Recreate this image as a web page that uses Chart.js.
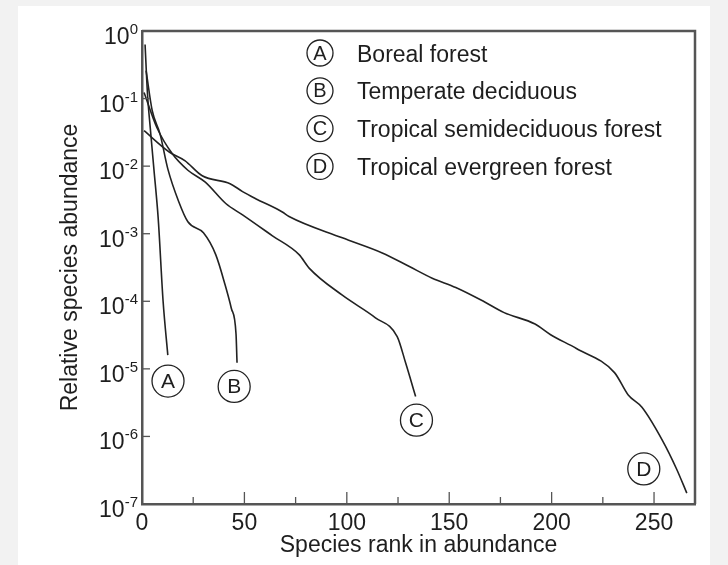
<!DOCTYPE html>
<html>
<head>
<meta charset="utf-8">
<script src="https://cdn.jsdelivr.net/npm/chart.js@4"></script>
<style>
  html, body { margin: 0; padding: 0; background: #fff; }
  canvas { display: block; }
</style>
</head>
<body>
<canvas id="grafico" width="728" height="565"></canvas>
<script>
// curvas (rank, abundancia relativa)
const letras = ['A', 'B', 'C', 'D'];
const nomes = ['Boreal forest', 'Temperate deciduous', 'Tropical semideciduous forest', 'Tropical evergreen forest'];

const borealRank = [1.5, 2.7, 4.1, 5.8, 7.9, 10.3, 12.6];
const borealAbund = [0.63, 0.115, 0.035, 0.0091, 0.0017, 0.0001, 0.000016];

const temperadaRank = [2, 5, 8.8, 12.6, 17.9, 22.4, 30, 36, 40.6, 43.6, 45.9, 46.4];
const temperadaAbund = [0.26, 0.066, 0.03, 0.0091, 0.003, 0.0015, 0.00103, 0.00049, 0.000174, 0.000079, 0.000033, 0.0000123];

const semiRank = [1, 7.3, 14.9, 22.4, 30.9, 40.9, 49.1, 63.7, 76.7, 81.6, 97.8, 114, 124.6, 128.7, 133.6];
const semiAbund = [0.123, 0.037, 0.0151, 0.0087, 0.0058, 0.0028, 0.0019, 0.00093, 0.00049, 0.00031, 0.000123, 0.000057, 0.00003, 0.0000123, 0.0000039];

const sempreRank = [1, 13.3, 20.9, 29.4, 43, 49.1, 55.5, 68.5, 71.8, 97.8, 117.3, 130.3, 141.7, 153.2, 166.7, 176.8, 191.9, 199.5, 212.1, 230.7, 237.4, 244.1, 254.2, 261, 266];
const sempreAbund = [0.0335, 0.0162, 0.0121, 0.0072, 0.0055, 0.0042, 0.0033, 0.0021, 0.0018, 0.00087, 0.00052, 0.00033, 0.00022, 0.00016, 0.0001, 0.000068, 0.000046, 0.000032, 0.00002, 0.0000088, 0.0000041, 0.0000027, 0.00000086, 0.00000033, 0.000000145];

// onde ficam os circulos com letra junto das curvas
const rotuloRank = [12.7, 45, 134, 245];
const rotuloAbund = [0.0000066, 0.0000055, 0.00000174, 0.00000033];

const xTicks = [0, 50, 100, 150, 200, 250];
const xTickMarks = [25, 50, 75, 100, 125, 150, 175, 200, 225, 250];
const yExpoentes = [0, -1, -2, -3, -4, -5, -6, -7];

const fonte = '"Liberation Sans", Arial, Helvetica, sans-serif';
const corTexto = '#1e1e1e';
const corEixo = '#555';

const series = [
  [borealRank, borealAbund],
  [temperadaRank, temperadaAbund],
  [semiRank, semiAbund],
  [sempreRank, sempreAbund]
];

const datasets = series.map((s, i) => ({
  label: nomes[i],
  data: s[0].map((r, j) => ({ x: r, y: s[1][j] })),
  borderColor: '#222',
  borderWidth: 1.6,
  pointRadius: 0,
  fill: false,
  cubicInterpolationMode: 'monotone'
}));

function circulo(ctx, cx, cy, r, letra, tam) {
  ctx.beginPath();
  ctx.arc(cx, cy, r, 0, Math.PI * 2);
  ctx.lineWidth = 1.3;
  ctx.strokeStyle = '#222';
  ctx.stroke();
  ctx.font = tam + 'px ' + fonte;
  ctx.textAlign = 'center';
  ctx.textBaseline = 'middle';
  ctx.fillStyle = corTexto;
  ctx.fillText(letra, cx, cy + 1);
}

const moldura = {
  id: 'moldura',
  beforeDraw(chart) {
    const ctx = chart.ctx;
    ctx.save();
    ctx.fillStyle = '#f2f2f2';
    ctx.fillRect(0, 0, chart.width, chart.height);
    ctx.fillStyle = '#fff';
    ctx.fillRect(18, 6, 692, chart.height - 6);
    ctx.restore();
  },
  afterDraw(chart) {
    const { ctx, chartArea: a, scales: { x, y } } = chart;
    ctx.save();
    ctx.strokeStyle = corEixo;
    ctx.lineWidth = 2.5;
    ctx.beginPath();
    ctx.moveTo(a.left, a.top);
    ctx.lineTo(a.right, a.top);
    ctx.lineTo(a.right, a.bottom);
    ctx.stroke();

    ctx.lineWidth = 1.3;
    xTickMarks.forEach(v => {
      const px = x.getPixelForValue(v);
      const len = v % 50 === 0 ? 12 : 7;
      ctx.beginPath();
      ctx.moveTo(px, a.bottom);
      ctx.lineTo(px, a.bottom - len);
      ctx.stroke();
    });

    ctx.fillStyle = corTexto;
    yExpoentes.forEach(e => {
      const py = y.getPixelForValue(Math.pow(10, e));
      if (e !== 0 && e !== -7) {
        ctx.beginPath();
        ctx.moveTo(a.left, py);
        ctx.lineTo(a.left + 8, py);
        ctx.stroke();
      }
      const sup = e === 0 ? '0' : '-' + (-e);
      ctx.textAlign = 'right';
      ctx.textBaseline = 'alphabetic';
      ctx.font = '15px ' + fonte;
      const sw = ctx.measureText(sup).width;
      ctx.fillText(sup, a.left - 4, py + 3);
      ctx.font = '23px ' + fonte;
      ctx.fillText('10', a.left - 4 - sw, py + 13);
    });

    // legenda
    nomes.forEach((n, i) => {
      const cy = 53 + i * 37.8;
      circulo(ctx, 320, cy, 13, letras[i], 20);
      ctx.font = '23px ' + fonte;
      ctx.textAlign = 'left';
      ctx.textBaseline = 'alphabetic';
      ctx.fillText(n, 357, cy + 8.5);
    });

    // letras nas curvas
    letras.forEach((l, i) => {
      const px = x.getPixelForValue(rotuloRank[i]);
      const py = y.getPixelForValue(rotuloAbund[i]);
      circulo(ctx, px, py, 16, l, 21);
    });
    ctx.restore();
  }
};

Chart.defaults.font.family = fonte;
Chart.defaults.color = corTexto;

new Chart(document.getElementById('grafico'), {
  type: 'line',
  data: { datasets },
  options: {
    responsive: false,
    animation: false,
    devicePixelRatio: 1,
    layout: { padding: { top: 31, right: 33, bottom: 0, left: 0 } },
    plugins: { legend: { display: false }, tooltip: { enabled: false } },
    scales: {
      x: {
        type: 'linear',
        min: 0,
        max: 270,
        afterFit: s => { s.height = 61; },
        afterBuildTicks: s => { s.ticks = xTicks.map(v => ({ value: v })); },
        grid: { display: false, drawTicks: false },
        border: { display: true, color: corEixo, width: 2.5 },
        ticks: { font: { size: 23 }, padding: 6, maxRotation: 0, autoSkip: false },
        title: { display: true, text: 'Species rank in abundance', font: { size: 23 }, padding: { top: 0, bottom: 6 } }
      },
      y: {
        type: 'logarithmic',
        min: 1e-7,
        max: 1,
        afterFit: s => { s.width = 142; },
        grid: { display: false, drawTicks: false },
        border: { display: true, color: corEixo, width: 2.5 },
        ticks: { display: false },
        title: { display: true, text: 'Relative species abundance', font: { size: 23 }, padding: { top: 57, bottom: 0 } }
      }
    }
  },
  plugins: [moldura]
});
</script>
</body>
</html>
